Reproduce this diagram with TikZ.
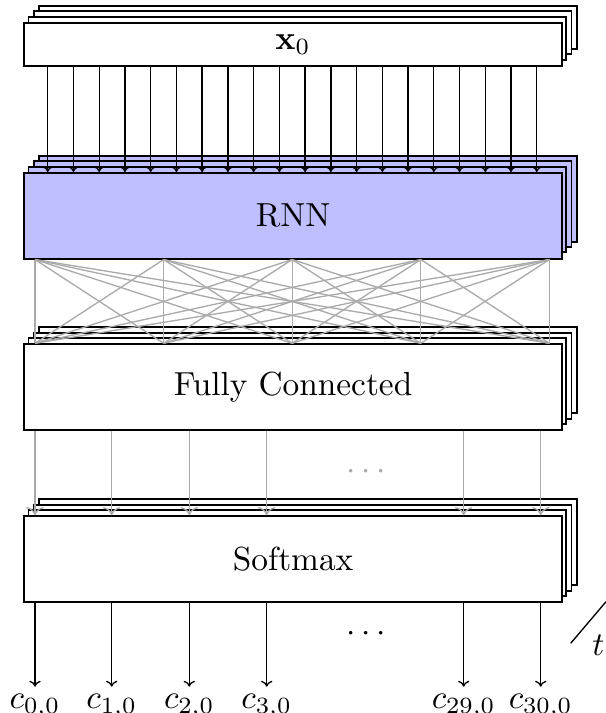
\documentclass[tikz,border=0pt]{standalone}
\usetikzlibrary{calc,arrows.meta}
\definecolor{rnnfill}{RGB}{191,191,255}
\definecolor{wire}{RGB}{170,170,170}
\def\pxu{0.3pt}
\begin{document}
\begin{tikzpicture}[x=0.3pt, y=-0.3pt,
  layer/.style={draw, line width=0.55pt, fill=white},
  block/.style={layer, anchor=north west, inner sep=0pt,
    minimum width={537.7*\pxu}},
  link/.style={-{To[length=1.8pt, width=3.4pt]}, line width=0.4pt},
  wirelink/.style={line width=0.4pt, draw=wire},
  outlabel/.style={anchor=north, inner sep=2pt}]
\useasboundingbox (0,0) rectangle (606,713);

% stacked copies behind each block (one per time step)
\foreach \top/\h/\col in {22/43/white, 172/85.7/rnnfill, 343.3/86/white, 515.3/86/white}{
  \foreach \k in {3,2,1}{
    \draw[layer, fill=\col] (23.3+5.23*\k, \top-5.3*\k) rectangle (561+5.23*\k, \top+\h-5.3*\k);
  }
}

% front blocks
\node[block, minimum height={43*\pxu}] (x0) at (23.3,22) {$\mathbf{x}_0$};
\node[block, fill=rnnfill, minimum height={85.7*\pxu}] (rnn) at (23.3,172) {RNN};
\node[block, minimum height={86*\pxu}] (fc) at (23.3,343.3) {Fully Connected};
\node[block, minimum height={86*\pxu}] (sm) at (23.3,515.3) {Softmax};

% input features into the RNN
\foreach \i in {0,...,19}{
  \draw[link] ($(x0.south west)+(24.4+25.74*\i,0)$) -- ($(rnn.north west)+(24.4+25.74*\i,0)$);
}

% dense connections RNN -> fully connected
\foreach \a in {0,...,4}{
  \foreach \b in {0,...,4}{
    \draw[wirelink] ($(rnn.south west)+(11.7+128.6*\a,0)$) -- ($(fc.north west)+(11.7+128.6*\b,0)$);
  }
}

% fully connected -> softmax
\foreach \dx in {11.7, 88.4, 166, 243.4, 440.4, 517.4}{
  \draw[wirelink, ->] ($(fc.south west)+(\dx,0)$) -- ($(sm.north west)+(\dx,0)$);
}
\node[text=wire] (gdots) at (366,471.7) {$\cdots$};

% output classes
\node[outlabel] (c0)  at (35,686.7)    {$c_{0,0}$};
\node[outlabel] (c1)  at (111.7,686.7) {$c_{1,0}$};
\node[outlabel] (c2)  at (189.3,686.7) {$c_{2,0}$};
\node[outlabel] (c3)  at (266.7,686.7) {$c_{3,0}$};
\node[outlabel] (c29) at (463.7,686.7) {$c_{29,0}$};
\node[outlabel] (c30) at (540.7,686.7) {$c_{30,0}$};
\foreach \c in {c0,c1,c2,c3,c29,c30}{
  \draw[link] (sm.south -| \c.north) -- (\c.north);
}
\node (odots) at (366,634.3) {$\cdots$};

% time axis
\coordinate (tstart) at (570.7,643.3);
\coordinate (tend) at (606,601.7);
\draw[line width=0.4pt] (tstart) -- (tend);
\node[inner sep=0pt] (tlabel) at (598.3,645) {$t$};
\end{tikzpicture}
\end{document}
